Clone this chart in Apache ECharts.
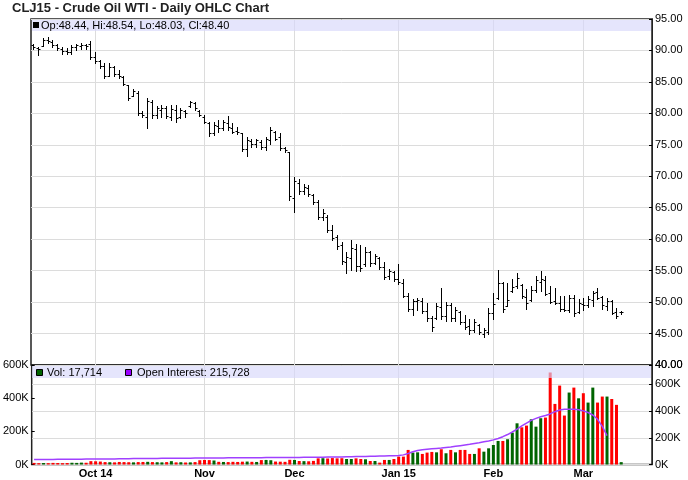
<!DOCTYPE html>
<html><head><meta charset="utf-8">
<script src="https://cdn.jsdelivr.net/npm/echarts@6/dist/echarts.min.js"></script>
<style>html,body{margin:0;padding:0;background:#fff}#c{width:688px;height:480px}</style>
</head><body><div id="c"></div>
<script>
// ---- data ----
const monthKeys = ['2014-09','2014-10','2014-11','2014-12','2015-01','2015-02','2015-03'];
const monthDays = [
  [12,15,16,17,18,19,22,23,24,25,26,29,30],
  [1,2,3,6,7,8,9,10,13,14,15,16,17,20,21,22,23,24,27,28,29,30,31],
  [3,4,5,6,7,10,11,12,13,14,17,18,19,20,21,24,25,26,28],
  [1,2,3,4,5,8,9,10,11,12,15,16,17,18,19,22,23,24,26,29,30,31],
  [2,5,6,7,8,9,12,13,14,15,16,20,21,22,23,26,27,28,29,30],
  [2,3,4,5,6,9,10,11,12,13,17,18,19,20,23,24,25,26,27],
  [2,3,4,5,6,9,10,11,12]
];
const tickDates = ['2014-10-01','2014-11-03','2014-12-01','2015-01-02','2015-02-02','2015-03-02'];
const tickLabels = ['Oct 14','Nov','Dec','Jan 15','Feb','Mar'];
const padSlots = 6;

const opens = [90.8,90.4,90.7,91.7,91.4,90.9,90.3,89.9,89.8,90.6,
90.7,90.8,91.0,89.0,88.3,87.6,86.0,87.3,86.2,85.8,
84.5,82.8,83.3,80.1,79.5,81.8,79.8,80.6,80.8,79.5,
80.6,79.4,80.4,81.2,81.7,80.4,79.5,78.5,76.9,78.0,
77.6,78.5,77.7,77.2,76.8,74.4,75.6,75.1,75.5,74.6,
75.8,77.1,76.2,74.5,73.8,66.6,69.0,67.6,68.2,67.0,
65.9,63.6,63.6,61.5,60.3,59.0,56.4,57.0,58.5,55.8,
56.0,57.9,56.2,57.0,55.6,54.2,54.8,53.6,53.0,51.0,
48.9,50.1,50.2,48.6,47.5,47.5,49.2,47.8,49.6,47.4,
48.4,46.8,46.2,45.5,46.4,45.0,45.3,48.2,50.6,53.0,
49.4,51.8,52.5,52.7,50.8,50.3,52.0,53.2,53.5,51.5,
50.2,49.8,48.9,48.8,50.6,48.4,49.7,49.5,50.4,51.6,
50.8,49.4,50.2,48.4,48.44];
const highs = [91.1,90.6,92.0,92.1,91.6,91.1,90.5,90.4,90.9,91.1,
91.2,91.1,91.5,89.7,88.5,88.0,88.0,87.6,86.9,85.9,
84.5,83.8,83.5,80.3,82.4,82.1,81.1,81.3,81.1,81.3,
81.3,80.8,80.5,82.0,81.8,80.5,79.7,78.7,78.7,78.9,
78.9,79.6,78.4,77.9,76.8,76.3,76.0,76.0,75.7,76.3,
77.9,77.2,76.9,74.7,73.9,69.9,69.6,68.8,68.6,67.2,
66.2,64.8,63.8,62.2,60.6,59.5,57.9,59.8,59.2,59.0,
58.7,58.2,57.6,57.1,56.3,55.3,55.0,56.0,53.7,51.5,
50.5,50.7,50.7,49.8,47.8,49.9,52.3,50.0,49.9,49.2,
48.6,48.0,47.3,47.3,46.5,45.9,49.1,51.4,55.1,53.2,
53.1,53.7,54.7,52.8,52.1,52.6,54.2,55.0,54.2,52.6,
52.2,51.0,51.0,51.2,51.2,50.5,50.6,51.0,51.7,52.3,
51.0,50.6,50.4,49.1,48.54];
const lows = [90.2,89.2,90.7,91.2,90.5,90.1,89.5,89.5,89.4,90.1,
90.2,90.2,88.6,88.0,87.2,85.6,85.9,85.9,85.6,84.5,
82.1,82.7,79.7,79.4,77.6,79.2,79.2,79.5,79.2,78.9,
78.7,79.2,79.5,81.0,80.6,79.6,78.4,76.4,76.5,77.1,
77.3,77.4,76.8,76.7,74.0,73.3,74.6,74.7,74.4,74.2,
75.2,75.7,74.2,73.9,66.3,64.3,67.2,67.2,66.9,65.6,
63.2,63.0,61.1,59.9,58.4,56.0,54.7,55.1,54.9,55.0,
55.8,55.8,56.0,55.3,53.7,53.7,53.4,52.9,50.8,48.6,
48.0,48.8,48.3,47.0,45.4,47.3,47.3,47.0,47.0,47.0,
46.5,45.7,45.0,45.3,44.9,44.4,44.9,47.3,50.5,48.5,
49.4,51.6,52.2,50.7,48.9,50.2,51.6,51.8,51.1,49.8,
49.7,48.6,48.6,48.5,47.8,48.3,48.8,49.2,49.4,50.5,
48.9,48.8,48.1,47.4,48.03];
const closes = [90.5,90.3,91.6,91.5,90.8,90.4,89.9,89.8,90.6,90.8,
90.9,90.7,88.9,88.3,87.5,85.9,87.4,86.2,86.0,84.7,
82.4,83.6,80.0,79.8,81.9,79.8,80.8,80.9,79.6,80.7,
79.2,80.5,80.0,81.8,80.9,79.8,78.6,76.8,78.2,77.6,
78.6,77.8,77.1,77.0,74.3,75.8,75.1,75.7,74.7,75.9,
77.3,76.0,74.5,74.1,66.9,69.2,67.6,68.3,67.2,65.9,
63.5,64.2,61.4,60.2,58.9,56.5,57.2,58.6,55.7,55.4,
58.0,56.2,57.4,55.6,54.0,54.9,53.6,53.2,51.0,48.9,
50.1,50.3,48.6,47.4,46.0,49.3,47.8,49.6,47.5,48.7,
46.8,46.1,45.5,46.8,45.3,45.6,48.3,49.7,53.1,48.9,
50.4,52.4,53.9,51.0,49.8,52.0,53.5,53.6,51.3,50.0,
49.8,48.9,48.7,50.7,48.2,49.8,49.5,50.5,51.5,50.7,
49.5,50.2,48.3,47.8,48.40];
const volumes = [12000,10000,11000,10000,12000,11000,10000,11000,13000,12000,
14000,13000,25000,24000,22000,18000,17000,16000,19000,18000,
17000,16000,18000,19000,20000,18000,17000,16000,18000,25000,
16000,17000,15000,16000,18000,32000,34000,33000,30000,20000,
19000,18000,20000,19000,21000,22000,20000,19000,33000,34000,
32000,22000,21000,20000,35000,34000,26000,25000,24000,27000,
46000,47000,45000,48000,46000,47000,41000,41000,46000,41000,
39000,26000,26000,14000,34000,34000,41000,59000,59000,109000,
89000,91000,79000,89000,94000,91000,114000,84000,109000,91000,
109000,109000,79000,79000,121000,96000,121000,146000,176000,176000,
189000,238000,308000,278000,291000,338000,283000,346000,351000,688000,
453000,590000,366000,538000,575000,495000,533000,463000,575000,463000,
508000,508000,490000,446000,17714];
const openInterest = [37000,37000,38000,38000,38000,39000,39000,39000,40000,40000,40000,41000,41000,
41000,41000,42000,42000,42000,43000,43000,43000,44000,44000,44000,45000,45000,45000,46000,46000,46000,47000,47000,47000,47000,48000,48000,
48000,48000,49000,49000,49000,50000,50000,50000,50000,51000,51000,51000,51000,52000,52000,52000,52000,53000,53000,
53000,53000,54000,54000,54000,55000,55000,56000,56000,57000,57000,58000,58000,59000,59000,60000,61000,62000,63000,64000,65000,66000,
68000,72000,82000,95000,105000,110000,114000,117000,120000,123000,127000,131000,136000,141000,146000,151000,157000,163000,170000,176000,
184000,195000,208000,224000,243000,265000,288000,310000,330000,345000,357000,366000,378000,395000,407000,413000,414000,413000,409000,401000,389000,370000,338000,285000,215728];
const priceTicks = {min: 40, max: 95, step: 5};
const priceLabels = [40,45,50,55,60,65,70,75,80,85,90,95];
const volLeftTicks = {min: 0, max: 600000, step: 200000};
const volRightTicks = {min: 0, max: 744000, step: 200000};
const volLabels = [0,200000,400000,600000];

// ---- build ----
const FONT = 'Liberation Sans, Arial, Helvetica, sans-serif';
const dates = [];
monthKeys.forEach((m, k) => monthDays[k].forEach(d => dates.push(m + '-' + String(d).padStart(2, '0'))));
const cats = dates.slice();
for (let i = 0; i < padSlots; i++) cats.push('pad' + i);
const isTick = (idx, val) => tickDates.indexOf(val) >= 0;

const ohlc = dates.map((d, i) => [i, opens[i], highs[i], lows[i], closes[i]]);
const volData = volumes.map((v, i) => {
  const up = i === 0 ? closes[i] >= opens[i] : closes[i] >= closes[i - 1];
  return {value: v, itemStyle: {color: up ? '#006400' : '#ff0000'}};
});
const oiData = dates.map((d, i) => i < openInterest.length ? openInterest[i] : null);
const n = dates.length - 1;
const fmt = v => Number(v).toLocaleString('en-US');
const kfmt = v => (v % 200000 === 0 ? (v / 1000) + 'K' : '');

const chart = echarts.init(document.getElementById('c'), null, {renderer: 'canvas'});
const gridLine = {color: '#dcdcdc', width: 1};
const xBase = (gi, labels) => ({
  gridIndex: gi, type: 'category', data: cats, boundaryGap: true,
  axisLine: {show: false}, axisTick: {show: false},
  axisLabel: labels ? {show: true, interval: isTick, color: '#000', fontWeight: 'bold', fontSize: 11, fontFamily: FONT, margin: 4,
    formatter: v => tickLabels[tickDates.indexOf(v)] || ''} : {show: false},
  splitLine: {show: true, interval: isTick, alignWithLabel: true, lineStyle: gridLine}
});

const legendGraphics = [
  {type: 'rect', z: 100, silent: true, shape: {x: 32, y: 20, width: 619, height: 11}, style: {fill: 'rgba(215,215,250,0.65)'}},
  {type: 'rect', z: 101, shape: {x: 33, y: 22, width: 6, height: 6}, style: {fill: '#000'}},
  {type: 'text', z: 101, x: 41, y: 25.5, style: {text: 'Op:' + opens[n].toFixed(2) + ', Hi:' + highs[n].toFixed(2) + ', Lo:' + lows[n].toFixed(2) + ', Cl:' + closes[n].toFixed(2),
    fill: '#000', font: '11px ' + FONT, textVerticalAlign: 'middle'}},
  {type: 'rect', z: 100, silent: true, shape: {x: 32, y: 366, width: 619, height: 12}, style: {fill: 'rgba(215,215,250,0.65)'}},
  {type: 'rect', z: 101, shape: {x: 36.5, y: 369.5, width: 6, height: 6}, style: {fill: '#006400', stroke: '#000', lineWidth: 1}},
  {type: 'text', z: 101, x: 47, y: 373, style: {text: 'Vol: ' + fmt(volumes[n]), fill: '#000', font: '11px ' + FONT, textVerticalAlign: 'middle'}},
  {type: 'rect', z: 101, shape: {x: 125.5, y: 369.5, width: 6, height: 6}, style: {fill: '#9900ff', stroke: '#000', lineWidth: 1}},
  {type: 'text', z: 101, x: 137, y: 373, style: {text: 'Open Interest: ' + fmt(openInterest[openInterest.length - 1]), fill: '#000', font: '11px ' + FONT, textVerticalAlign: 'middle'}}
];

chart.setOption({
  animation: false,
  backgroundColor: '#fff',
  title: {text: 'CLJ15 - Crude Oil WTI - Daily OHLC Chart', left: 12, top: 2, padding: 0,
    textStyle: {fontSize: 13, fontWeight: 'bold', color: '#222', fontFamily: FONT}},
  grid: [
    {left: 31, top: 19, width: 621, height: 346, show: true, borderColor: '#222', borderWidth: 1.5, backgroundColor: 'transparent'},
    {left: 31, top: 365, width: 621, height: 99.5, show: true, borderColor: '#222', borderWidth: 1.5, backgroundColor: 'transparent'}
  ],
  xAxis: [xBase(0, false), xBase(1, true)],
  yAxis: [
    {gridIndex: 0, type: 'value', position: 'right', min: priceTicks.min, max: priceTicks.max, interval: priceTicks.step,
      axisLine: {show: true, lineStyle: {color: '#222'}}, axisTick: {show: true, inside: true, length: 3, lineStyle: {color: '#000'}},
      axisLabel: {customValues: priceLabels, formatter: v => Number(v).toFixed(2), showMinLabel: true, showMaxLabel: true, hideOverlap: false,
        color: '#000', fontSize: 11, fontFamily: FONT, margin: 3},
      splitLine: {show: true, lineStyle: gridLine}},
    {gridIndex: 1, type: 'value', position: 'right', min: volRightTicks.min, max: volRightTicks.max, interval: volRightTicks.step,
      axisLine: {show: true, lineStyle: {color: '#222'}}, axisTick: {show: true, inside: true, length: 3, lineStyle: {color: '#000'}},
      axisLabel: {customValues: volLabels, formatter: kfmt, color: '#000', fontSize: 11, fontFamily: FONT, margin: 3},
      splitLine: {show: true, lineStyle: gridLine}},
    {gridIndex: 1, type: 'value', position: 'left', min: volLeftTicks.min, max: volLeftTicks.max, interval: volLeftTicks.step,
      axisLine: {show: true, lineStyle: {color: '#222'}}, axisTick: {show: true, inside: true, length: 3, lineStyle: {color: '#000'}},
      axisLabel: {formatter: kfmt, showMaxLabel: true, color: '#000', fontSize: 11, fontFamily: FONT, margin: 3},
      splitLine: {show: false}}
  ],
  series: [
    {type: 'custom', xAxisIndex: 0, yAxisIndex: 0, data: ohlc, encode: {x: 0, y: [1, 2, 3, 4]}, clip: true,
      renderItem: (params, api) => {
        const idx = api.value(0);
        const o = api.coord([idx, api.value(1)]);
        const h = api.coord([idx, api.value(2)]);
        const l = api.coord([idx, api.value(3)]);
        const c = api.coord([idx, api.value(4)]);
        const x = Math.round(h[0]) + 0.5;
        const yo = Math.round(o[1]) + 0.5, yc = Math.round(c[1]) + 0.5;
        const st = {stroke: '#000', lineWidth: 1};
        return {type: 'group', children: [
          {type: 'line', shape: {x1: x, y1: Math.round(h[1]), x2: x, y2: Math.round(l[1]) + 1}, style: st},
          {type: 'line', shape: {x1: x - 2, y1: yo, x2: x, y2: yo}, style: st},
          {type: 'line', shape: {x1: x, y1: yc, x2: x + 2, y2: yc}, style: st}
        ]};
      }},
    {type: 'line', xAxisIndex: 0, yAxisIndex: 0, data: closes, symbol: 'none', silent: true,
      lineStyle: {opacity: 0}, z: 5,
      markLine: {silent: true, symbol: 'none', lineStyle: {opacity: 0},
        data: [
          {yAxis: closes[n], label: {show: true, position: 'end', distance: 2, formatter: closes[n].toFixed(2), color: '#fff', backgroundColor: '#000',
            padding: [1, 2, 0, 2], fontSize: 11, fontFamily: FONT}}
        ]}},
    {type: 'bar', name: 'Vol', xAxisIndex: 1, yAxisIndex: 1, data: volData, barWidth: 3, z: 2},
    {type: 'line', name: 'Open Interest', xAxisIndex: 1, yAxisIndex: 1, data: oiData, symbol: 'none', z: 3,
      lineStyle: {color: '#a040ff', width: 1.5}, connectNulls: false}
  ],
  graphic: legendGraphics
});

// price-axis minimum label (sits on the panel boundary); position from the price scale
const yMin = chart.convertToPixel({yAxisIndex: 0}, priceTicks.min);
const xRight = chart.convertToPixel({xAxisIndex: 0}, cats.length - 1) + 621 / cats.length / 2;
chart.setOption({graphic: legendGraphics.concat([
  {type: 'text', z: 101, x: xRight + 3, y: yMin, style: {text: priceTicks.min.toFixed(2), fill: '#000', font: '11px ' + FONT, textVerticalAlign: 'middle'}}
])});
</script></body></html>
